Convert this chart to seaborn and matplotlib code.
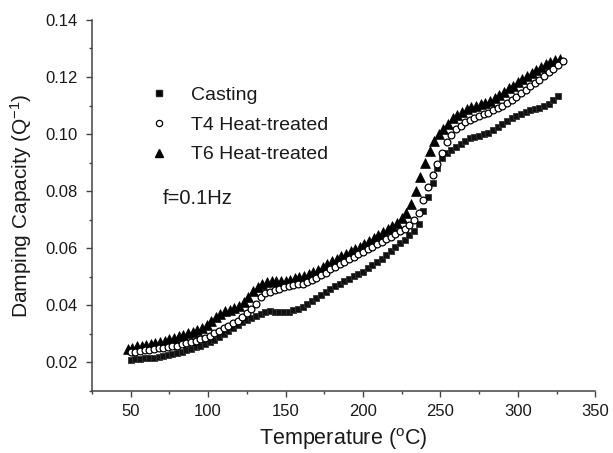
import matplotlib
matplotlib.use("Agg")
import matplotlib.pyplot as plt
import seaborn as sns
import pandas as pd
from matplotlib.ticker import MultipleLocator
from matplotlib.lines import Line2D

casting_temp = [50, 53, 56, 59, 62, 65, 68, 71, 74, 77, 80, 83, 86, 89, 92, 95, 98, 101, 104, 107,
                110, 113, 116, 119, 122, 125, 128, 131, 134, 137, 140, 143, 146, 149, 152, 155, 158, 161, 164, 167,
                170, 173, 176, 179, 182, 185, 188, 191, 194, 197, 200, 203, 206, 209, 212, 215, 218, 221, 224, 227,
                230, 233, 236, 239, 242, 245, 248, 251, 254, 257, 260, 263, 266, 269, 272, 275, 278, 281, 284, 287,
                290, 293, 296, 299, 302, 305, 308, 311, 314, 317, 320, 323, 326]
casting_q = [0.0210, 0.0211, 0.0212, 0.0214, 0.0215, 0.0217, 0.0219, 0.0221, 0.0225, 0.0229,
             0.0233, 0.0238, 0.0243, 0.0248, 0.0253, 0.0259, 0.0265, 0.0271, 0.0280, 0.0290,
             0.0300, 0.0310, 0.0320, 0.0330, 0.0340, 0.0348, 0.0355, 0.0362, 0.0370, 0.0377,
             0.0381, 0.0378, 0.0376, 0.0376, 0.0378, 0.0382, 0.0388, 0.0395, 0.0405, 0.0415,
             0.0425, 0.0436, 0.0447, 0.0458, 0.0468, 0.0476, 0.0484, 0.0492, 0.0501, 0.0509,
             0.0518, 0.0530, 0.0540, 0.0552, 0.0563, 0.0575, 0.0590, 0.0605, 0.0618, 0.0630,
             0.0645, 0.0662, 0.0685, 0.0730, 0.0780, 0.0830, 0.0880, 0.0915, 0.0935, 0.0945,
             0.0955, 0.0965, 0.0975, 0.0985, 0.0990, 0.0995, 0.1000, 0.1005, 0.1015, 0.1025,
             0.1035, 0.1045, 0.1055, 0.1062, 0.1070, 0.1077, 0.1083, 0.1088, 0.1093, 0.1098,
             0.1105, 0.1118, 0.1135]

t4_temp = [50, 53, 56, 59, 62, 65, 68, 71, 74, 77, 80, 83, 86, 89, 92, 95, 98, 101, 104, 107,
           110, 113, 116, 119, 122, 125, 128, 131, 134, 137, 140, 143, 146, 149, 152, 155, 158, 161, 164, 167,
           170, 173, 176, 179, 182, 185, 188, 191, 194, 197, 200, 203, 206, 209, 212, 215, 218, 221, 224, 227,
           230, 233, 236, 239, 242, 245, 248, 251, 254, 257, 260, 263, 266, 269, 272, 275, 278, 281, 284, 287,
           290, 293, 296, 299, 302, 305, 308, 311, 314, 317, 320, 323, 326, 329]
t4_q = [0.0236, 0.0238, 0.0241, 0.0243, 0.0245, 0.0247, 0.0249, 0.0251, 0.0253, 0.0256,
        0.0259, 0.0263, 0.0267, 0.0271, 0.0276, 0.0281, 0.0287, 0.0293, 0.0302, 0.0311,
        0.0320, 0.0328, 0.0337, 0.0346, 0.0358, 0.0372, 0.0388, 0.0405, 0.0428, 0.0442,
        0.0448, 0.0453, 0.0458, 0.0463, 0.0467, 0.0470, 0.0473, 0.0476, 0.0482, 0.0488,
        0.0495, 0.0505, 0.0515, 0.0526, 0.0536, 0.0545, 0.0553, 0.0561, 0.0570, 0.0579,
        0.0588, 0.0597, 0.0606, 0.0614, 0.0623, 0.0632, 0.0640, 0.0649, 0.0659, 0.0668,
        0.0680, 0.0700, 0.0725, 0.0770, 0.0815, 0.0855, 0.0895, 0.0935, 0.0972, 0.0998,
        0.1018, 0.1030, 0.1042, 0.1051, 0.1058, 0.1064, 0.1069, 0.1074, 0.1083, 0.1092,
        0.1100, 0.1110, 0.1120, 0.1131, 0.1143, 0.1155, 0.1167, 0.1179, 0.1191, 0.1203,
        0.1216, 0.1228, 0.1241, 0.1257]

t6_temp = [48, 51, 54, 57, 60, 63, 66, 69, 72, 75, 78, 81, 84, 87, 90, 93, 96, 99, 102, 105,
           108, 111, 114, 117, 120, 123, 126, 129, 132, 135, 138, 141, 144, 147, 150, 153, 156, 159, 162, 165,
           168, 171, 174, 177, 180, 183, 186, 189, 192, 195, 198, 201, 204, 207, 210, 213, 216, 219, 222, 225,
           228, 231, 234, 237, 240, 243, 246, 249, 252, 255, 258, 261, 264, 267, 270, 273, 276, 279, 282, 285,
           288, 291, 294, 297, 300, 303, 306, 309, 312, 315, 318, 321, 324, 327]
t6_q = [0.0248, 0.0252, 0.0256, 0.0259, 0.0262, 0.0265, 0.0268, 0.0272, 0.0276, 0.0281,
        0.0287, 0.0292, 0.0297, 0.0302, 0.0308, 0.0315, 0.0322, 0.0332, 0.0345, 0.0358,
        0.0370, 0.0379, 0.0385, 0.0391, 0.0397, 0.0412, 0.0430, 0.0450, 0.0465, 0.0476,
        0.0482, 0.0484, 0.0485, 0.0485, 0.0486, 0.0490, 0.0494, 0.0498, 0.0503, 0.0509,
        0.0516, 0.0525, 0.0535, 0.0545, 0.0554, 0.0563, 0.0572, 0.0580, 0.0589, 0.0598,
        0.0606, 0.0614, 0.0624, 0.0635, 0.0646, 0.0656, 0.0666, 0.0677, 0.0690, 0.0705,
        0.0725, 0.0755, 0.0800, 0.0850, 0.0900, 0.0940, 0.0975, 0.1000, 0.1018, 0.1036,
        0.1055, 0.1068, 0.1078, 0.1087, 0.1094, 0.1099, 0.1104, 0.1109, 0.1116, 0.1126,
        0.1137, 0.1149, 0.1160, 0.1170, 0.1181, 0.1192, 0.1204, 0.1215, 0.1226, 0.1236,
        0.1246, 0.1254, 0.1260, 0.1264]

labels = ["Casting", "T4 Heat-treated", "T6 Heat-treated"]
x_ticks = [50, 100, 150, 200, 250, 300, 350]
y_ticks = [0.02, 0.04, 0.06, 0.08, 0.10, 0.12, 0.14]

sns.set_style("ticks")
plt.rcParams["font.family"] = ["Liberation Sans", "DejaVu Sans"]
plt.rcParams["mathtext.fontset"] = "custom"
plt.rcParams["mathtext.rm"] = "Liberation Sans"
plt.rcParams["mathtext.it"] = "Liberation Sans"

fig = plt.figure(figsize=(6.13, 4.53), dpi=100)
ax = fig.add_axes([0.150, 0.137, 0.821, 0.819])

df_c = pd.DataFrame({"T": casting_temp, "Q": casting_q})
df_4 = pd.DataFrame({"T": t4_temp, "Q": t4_q})
df_6 = pd.DataFrame({"T": t6_temp, "Q": t6_q})

sns.scatterplot(data=df_c, x="T", y="Q", ax=ax, marker="s", s=24, color="#111111",
                edgecolor="#333333", linewidth=0.6, zorder=3)
sns.scatterplot(data=df_6, x="T", y="Q", ax=ax, marker="^", s=50, color="black",
                edgecolor="black", linewidth=0.5, zorder=4)
sns.scatterplot(data=df_4, x="T", y="Q", ax=ax, marker="o", s=24, facecolor="white",
                edgecolor="black", linewidth=0.9, zorder=5)

ax.set_xlim(25, 350)
ax.set_ylim(0.01, 0.14)
ax.set_xticks(x_ticks)
ax.set_yticks(y_ticks)
ax.set_yticklabels([f"{v:.2f}" for v in y_ticks])
ax.xaxis.set_minor_locator(MultipleLocator(25))
ax.yaxis.set_minor_locator(MultipleLocator(0.01))

for side in ["top", "right"]:
    ax.spines[side].set_visible(False)
for side in ["left", "bottom"]:
    ax.spines[side].set_color("#444444")
    ax.spines[side].set_linewidth(1.1)

ax.tick_params(which="major", direction="out", length=4.5, width=1.0, color="#444444",
               labelsize=12, labelcolor="#1a1a1a")
ax.tick_params(which="minor", direction="out", length=2.5, width=1.0, color="#444444")
ax.tick_params(axis="x", which="major", pad=5)
ax.tick_params(axis="y", which="major", pad=6)

ax.set_xlabel("Temperature ($^{\\mathrm{o}}$C)", fontsize=15.5, color="#1a1a1a", labelpad=5)
ax.set_ylabel("Damping Capacity (Q$^{\\mathrm{-1}}$)", fontsize=15, color="#1a1a1a", labelpad=8)

handles = [
    Line2D([], [], linestyle="none", marker="s", markersize=4, markerfacecolor="black",
           markeredgecolor="#222222"),
    Line2D([], [], linestyle="none", marker="o", markersize=4.5, markerfacecolor="white",
           markeredgecolor="black", markeredgewidth=0.9),
    Line2D([], [], linestyle="none", marker="^", markersize=6, markerfacecolor="black",
           markeredgecolor="black"),
]
ax.legend(handles, labels, loc="upper left", bbox_to_anchor=(0.08, 0.868), frameon=False,
          fontsize=14, handlelength=1.0, handletextpad=1.1, labelspacing=0.62,
          labelcolor="#1a1a1a")

ax.text(0.141, 0.52, "f=0.1Hz", transform=ax.transAxes, fontsize=14.5, va="center",
        ha="left", color="#1a1a1a")

fig.savefig("out.png", dpi=100)
